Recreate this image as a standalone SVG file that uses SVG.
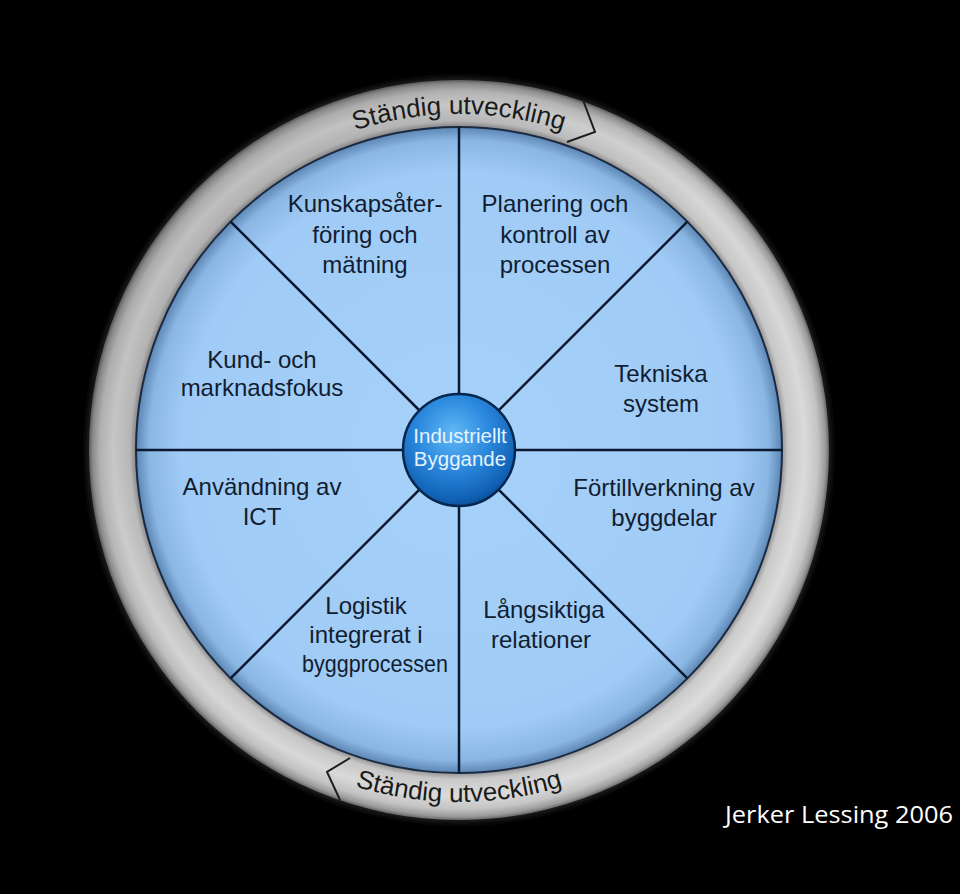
<svg xmlns="http://www.w3.org/2000/svg" width="960" height="894" viewBox="0 0 960 894">
  <defs>
    <radialGradient id="ringGrad" cx="459" cy="450" r="372" gradientUnits="userSpaceOnUse">
      <stop offset="0.865" stop-color="#8a8a8a"/>
      <stop offset="0.885" stop-color="#cdcdcd"/>
      <stop offset="0.93" stop-color="#e0e0e0"/>
      <stop offset="0.965" stop-color="#c8c8c8"/>
      <stop offset="0.985" stop-color="#9c9c9c"/>
      <stop offset="1" stop-color="#4a4a4a"/>
    </radialGradient>
    <linearGradient id="ringTint" x1="0" y1="0" x2="1" y2="1">
      <stop offset="0" stop-color="#000" stop-opacity="0.2"/>
      <stop offset="0.5" stop-color="#000" stop-opacity="0.04"/>
      <stop offset="1" stop-color="#fff" stop-opacity="0.06"/>
    </linearGradient>
    <radialGradient id="blueGrad" cx="459" cy="450" r="323" gradientUnits="userSpaceOnUse">
      <stop offset="0" stop-color="#a6d1f9"/>
      <stop offset="0.86" stop-color="#a0cbf6"/>
      <stop offset="0.96" stop-color="#8ab6e3"/>
      <stop offset="1" stop-color="#5c86b3"/>
    </radialGradient>
    <radialGradient id="hubGrad" cx="0.45" cy="0.35" r="0.7">
      <stop offset="0" stop-color="#62b9f6"/>
      <stop offset="0.45" stop-color="#2c8ade"/>
      <stop offset="0.85" stop-color="#1060b4"/>
      <stop offset="1" stop-color="#074282"/>
    </radialGradient>
    <filter id="shade" x="-10%" y="-10%" width="120%" height="120%">
      <feGaussianBlur stdDeviation="3"/>
    </filter>
    <style>
      .lbl { font-family: "Liberation Sans", Arial, sans-serif; font-size: 24px; fill: #111d30; text-anchor: middle; }
      .arc { font-family: "Liberation Sans", Arial, sans-serif; font-size: 26px; fill: #1a1a1a; }
      .hub { font-family: "Liberation Sans", Arial, sans-serif; font-size: 20.5px; fill: #e6f3ff; text-anchor: middle; }
      .ray { stroke: #0b1830; stroke-width: 2.5; }
      .chev { fill: none; stroke: #1e1e1e; stroke-width: 2; stroke-linejoin: miter; }
    </style>
    <path id="topArc" d="M 123 450 A 336 336 0 0 1 795 450"/>
    <path id="botArc" d="M 107 450 A 352 352 0 0 0 811 450"/>
  </defs>

  <rect x="0" y="0" width="960" height="894" fill="#000"/>

  <g id="ring">
    <circle cx="459" cy="450" r="372" fill="#262626" filter="url(#shade)"/>
    <circle cx="459" cy="450" r="370" fill="url(#ringGrad)"/>
    <circle cx="459" cy="450" r="370" fill="url(#ringTint)"/>
    <text class="arc"><textPath href="#topArc" startOffset="50%" text-anchor="middle">Ständig utveckling</textPath></text>
    <text class="arc"><textPath href="#botArc" startOffset="50%" text-anchor="middle">Ständig utveckling</textPath></text>
    <polyline class="chev" points="567,142 595,132 583,100"/>
    <polyline class="chev" points="350,758 327,772 340,800"/>
  </g>

  <g id="disk">
    <circle cx="459" cy="450" r="323" fill="url(#blueGrad)" stroke="#1a2a42" stroke-width="2"/>
  </g>

  <g id="connectors">
    <line class="ray" x1="459" y1="450" x2="459" y2="127"/>
    <line class="ray" x1="459" y1="450" x2="459" y2="773"/>
    <line class="ray" x1="459" y1="450" x2="136" y2="450"/>
    <line class="ray" x1="459" y1="450" x2="782" y2="450"/>
    <line class="ray" x1="459" y1="450" x2="230.6" y2="221.6"/>
    <line class="ray" x1="459" y1="450" x2="687.4" y2="221.6"/>
    <line class="ray" x1="459" y1="450" x2="687.4" y2="678.4"/>
    <line class="ray" x1="459" y1="450" x2="230.6" y2="678.4"/>
  </g>

  <g id="hub">
    <circle cx="459" cy="450" r="56" fill="url(#hubGrad)" stroke="#05264d" stroke-width="2.5"/>
    <text class="hub" x="460" y="443">Industriellt</text>
    <text class="hub" x="460" y="466">Byggande</text>
  </g>

  <g id="kunskap">
    <text class="lbl" x="365" y="212">Kunskapsåter-</text>
    <text class="lbl" x="365" y="243">föring och</text>
    <text class="lbl" x="365" y="273">mätning</text>
  </g>
  <g id="planering">
    <text class="lbl" x="555" y="212">Planering och</text>
    <text class="lbl" x="555" y="243">kontroll av</text>
    <text class="lbl" x="555" y="273">processen</text>
  </g>
  <g id="kund">
    <text class="lbl" x="262" y="368">Kund- och</text>
    <text class="lbl" x="262" y="396">marknadsfokus</text>
  </g>
  <g id="tekniska">
    <text class="lbl" x="661" y="382">Tekniska</text>
    <text class="lbl" x="661" y="412">system</text>
  </g>
  <g id="anvandning">
    <text class="lbl" x="262" y="495">Användning av</text>
    <text class="lbl" x="262" y="525">ICT</text>
  </g>
  <g id="fortillverkning">
    <text class="lbl" x="664" y="496">Förtillverkning av</text>
    <text class="lbl" x="664" y="526">byggdelar</text>
  </g>
  <g id="logistik">
    <text class="lbl" x="366" y="614">Logistik</text>
    <text class="lbl" x="366" y="643">integrerat i</text>
    <text class="lbl" x="375" y="672" textLength="146" lengthAdjust="spacingAndGlyphs">byggprocessen</text>
  </g>
  <g id="langsiktiga">
    <text class="lbl" x="544" y="618">Långsiktiga</text>
    <text class="lbl" x="541" y="648">relationer</text>
  </g>

  <text x="725" y="823" font-family="'Open Sans', 'Liberation Sans', sans-serif" font-size="24" fill="#ffffff" textLength="228" lengthAdjust="spacingAndGlyphs">Jerker Lessing 2006</text>
</svg>
